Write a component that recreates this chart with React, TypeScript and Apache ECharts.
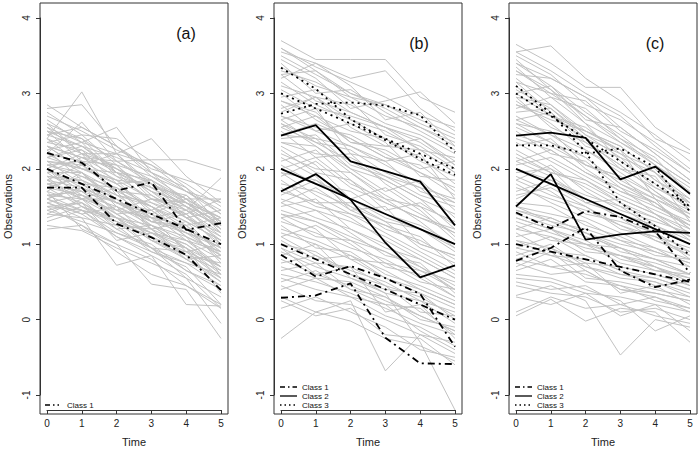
import React, { useEffect, useRef } from "react";
import * as echarts from "echarts";

const TIME = [0, 1, 2, 3, 4, 5];
const Y_TICKS = [-1, 0, 1, 2, 3, 4];
const PANEL_TITLES = ["(a)", "(b)", "(c)"];

// Panel (a): observed trajectories (grey)
const grayA = [
  [2.40, 3.02, 2.20, 2.05, 1.70, 1.45], [2.80, 2.85, 2.30, 1.90, 1.60, 1.30],
  [2.20, 2.62, 2.10, 1.80, 1.50, 1.20], [2.55, 2.35, 2.55, 1.95, 1.75, 1.40],
  [2.10, 2.05, 2.20, 2.40, 1.90, 1.55], [2.30, 2.15, 2.10, 2.12, 2.12, 1.98],
  [1.85, 1.75, 1.55, 1.40, 1.20, 0.95], [1.60, 1.45, 1.30, 1.10, 0.90, 0.70],
  [1.25, 1.18, 0.95, 0.75, 0.55, 0.30], [1.40, 1.35, 0.72, 0.85, 0.60, 0.15],
  [1.70, 1.20, 1.00, 0.47, 0.40, -0.25], [1.55, 1.40, 1.10, 0.85, 0.20, 0.18],
  [1.95, 1.65, 1.35, 0.95, 0.55, -0.05], [2.05, 1.90, 1.75, 1.50, 1.30, 1.05],
  [2.60, 2.40, 2.10, 1.85, 1.55, 1.25], [2.15, 2.00, 1.85, 1.60, 1.45, 1.10],
  [1.75, 1.65, 1.50, 1.25, 1.05, 0.80], [2.45, 2.30, 2.00, 1.70, 1.45, 1.15],
  [1.90, 1.85, 1.40, 1.45, 1.10, 0.90], [1.65, 1.70, 1.35, 1.05, 0.95, 0.60],
  [2.30, 2.00, 1.95, 1.55, 1.30, 0.85], [1.50, 1.55, 1.25, 1.20, 0.80, 0.55],
  [2.00, 2.20, 1.65, 1.55, 1.40, 1.60], [2.70, 2.50, 2.25, 2.05, 1.80, 1.50],
  [1.80, 1.60, 1.60, 1.30, 1.25, 0.75], [1.35, 1.50, 1.20, 0.95, 0.75, 0.45],
  [2.25, 2.35, 1.90, 1.75, 1.50, 1.30], [1.60, 1.80, 1.45, 1.35, 0.90, 1.00],
  [2.50, 2.10, 2.05, 1.60, 1.55, 1.20], [1.95, 1.95, 1.70, 1.20, 1.00, 0.65],
  [2.35, 2.25, 1.80, 1.85, 1.60, 1.60], [1.45, 1.30, 1.15, 1.00, 0.65, 0.40],
  [2.10, 1.80, 1.55, 1.35, 1.45, 1.88], [1.70, 1.55, 1.05, 1.15, 0.85, 0.50],
  [2.60, 2.20, 2.05, 1.90, 1.70, 1.55], [1.85, 2.05, 1.80, 1.45, 1.65, 1.20],
  [2.20, 1.95, 1.60, 1.25, 0.95, 0.70], [1.55, 1.65, 1.40, 1.15, 1.05, 0.90],
  [2.45, 2.55, 2.30, 2.00, 1.85, 1.70], [1.30, 1.45, 1.10, 0.90, 0.70, 0.20],
  [2.00, 1.75, 1.45, 1.60, 1.35, 1.10], [1.75, 1.90, 1.65, 1.35, 1.25, 1.35],
  [2.40, 2.05, 1.70, 1.50, 1.20, 0.95], [1.60, 1.40, 1.50, 1.05, 0.80, 0.85],
  [2.15, 2.25, 2.00, 1.70, 1.35, 1.45], [1.90, 1.50, 1.30, 1.15, 0.95, 0.35],
  [2.75, 2.45, 2.40, 2.10, 1.75, 1.25], [1.50, 1.25, 1.00, 0.80, 0.45, 0.15],
  [2.05, 2.10, 1.85, 1.80, 1.55, 1.25], [1.80, 1.70, 1.55, 1.40, 1.60, 1.15],
  [2.30, 2.00, 1.85, 1.40, 1.05, 0.70], [1.65, 1.60, 1.20, 1.25, 1.10, 0.60],
  [2.55, 2.20, 2.20, 1.80, 1.50, 1.00], [1.20, 1.25, 0.90, 0.60, 0.45, 0.20],
  [2.00, 1.60, 1.75, 1.30, 1.40, 0.95], [2.35, 2.45, 2.05, 1.65, 1.40, 1.05],
  [1.70, 1.95, 1.50, 1.30, 1.15, 0.85], [2.50, 2.30, 2.15, 1.95, 1.55, 1.35],
  [1.45, 1.55, 1.30, 0.95, 0.90, 0.55], [2.20, 2.10, 1.70, 1.65, 1.35, 1.00],
  [1.85, 1.60, 1.45, 1.20, 0.85, 0.75], [2.65, 2.35, 2.20, 1.75, 1.65, 1.30],
  [1.60, 1.75, 1.55, 1.45, 1.15, 0.95], [2.05, 1.95, 1.55, 1.30, 1.20, 0.80],
  [2.40, 2.20, 1.95, 1.85, 1.35, 1.15], [1.75, 1.50, 1.35, 1.25, 0.95, 0.55],
  [1.95, 2.15, 1.90, 1.60, 1.50, 1.20], [2.25, 1.85, 1.65, 1.50, 1.25, 0.90],
  [1.55, 1.35, 1.25, 0.90, 0.75, 0.60], [2.85, 2.55, 2.30, 1.95, 1.70, 1.40],
  [1.40, 1.60, 1.35, 1.05, 0.85, 0.65], [2.15, 2.30, 1.95, 1.70, 1.55, 1.35],
  [1.80, 1.85, 1.60, 1.20, 1.30, 1.05], [2.00, 1.70, 1.40, 1.10, 0.80, 0.50],
  [2.50, 2.40, 1.95, 1.75, 1.45, 1.25], [1.65, 1.45, 1.15, 0.95, 0.65, 0.45],
  [2.30, 2.15, 2.00, 1.80, 1.60, 1.35], [1.90, 1.80, 1.75, 1.35, 1.15, 1.00],
  [2.10, 2.00, 1.80, 1.50, 1.10, 0.85], [1.50, 1.45, 1.35, 1.15, 1.00, 0.70],
];

// Panel (b): observed trajectories (grey)
const grayB = [
  [3.70, 3.45, 3.45, 3.45, 2.95, 2.75], [3.55, 3.40, 3.20, 3.30, 2.80, 2.50],
  [3.35, 3.10, 2.95, 2.70, 2.55, 2.35], [3.10, 2.95, 2.85, 2.60, 2.45, 2.20],
  [2.90, 2.70, 2.50, 2.40, 2.10, 1.90], [3.25, 3.30, 3.00, 2.85, 2.60, 2.40],
  [2.70, 2.55, 2.45, 2.20, 1.95, 1.75], [3.45, 3.20, 2.80, 2.90, 3.02, 2.60],
  [2.95, 3.05, 2.75, 2.55, 2.35, 2.05], [3.60, 3.35, 3.15, 2.95, 2.70, 2.55],
  [2.60, 2.40, 2.30, 2.05, 1.80, 1.55], [3.15, 2.85, 2.65, 2.50, 2.25, 1.95],
  [2.80, 2.95, 2.55, 2.30, 2.40, 2.10], [3.40, 3.00, 3.05, 2.75, 2.50, 2.25],
  [3.00, 2.65, 2.40, 2.15, 2.05, 1.70], [2.55, 2.70, 2.35, 2.25, 2.00, 2.10],
  [3.30, 3.15, 2.90, 2.45, 2.30, 2.00], [2.85, 2.50, 2.60, 2.35, 1.90, 1.85],
  [3.20, 3.40, 3.10, 2.65, 2.75, 2.30], [2.65, 2.80, 2.20, 2.10, 2.20, 1.60],
  [2.55, 2.35, 2.10, 1.85, 1.60, 1.40], [2.20, 2.00, 1.95, 1.65, 1.40, 1.15],
  [1.80, 1.70, 1.50, 1.20, 1.05, 0.80], [2.40, 2.45, 2.05, 1.90, 1.75, 1.35],
  [1.60, 1.45, 1.30, 1.10, 0.85, 0.60], [2.05, 1.80, 1.70, 1.40, 1.25, 1.00],
  [2.70, 2.50, 2.30, 2.10, 1.70, 1.55], [1.90, 2.10, 1.75, 1.55, 1.35, 1.20],
  [1.50, 1.60, 1.20, 1.00, 0.70, 0.40], [2.30, 2.05, 1.60, 1.75, 1.45, 1.05],
  [1.70, 1.55, 1.55, 1.30, 0.95, 0.75], [2.10, 2.25, 1.85, 1.45, 1.55, 1.25],
  [1.40, 1.30, 1.05, 0.90, 0.65, 0.50], [2.50, 2.15, 2.20, 1.80, 1.50, 1.10],
  [1.95, 1.65, 1.40, 1.25, 1.10, 0.70], [2.35, 2.30, 1.95, 1.60, 1.30, 0.95],
  [1.65, 1.85, 1.60, 1.35, 1.20, 0.90], [2.15, 1.90, 1.45, 1.50, 1.00, 0.85],
  [1.85, 1.55, 1.35, 1.05, 0.80, 0.55], [2.60, 2.30, 2.00, 1.70, 1.85, 1.45],
  [1.20, 1.05, 0.85, 0.65, 0.40, 0.20], [0.80, 0.60, 0.45, 0.25, 0.05, -0.15],
  [1.45, 1.30, 1.10, 0.90, 0.70, 0.45], [0.55, 0.40, 0.30, 0.05, -0.10, -0.35],
  [-0.25, 0.10, -0.02, -0.25, -0.35, -0.55], [0.30, 0.10, 0.25, -0.68, -0.20, -0.45],
  [1.00, 0.90, 0.60, 0.35, -0.30, -1.20], [0.95, 0.75, 0.70, 0.45, 0.30, 0.05],
  [1.30, 1.15, 0.95, 0.80, 0.55, 0.30], [0.65, 0.75, 0.40, 0.20, 0.15, -0.20],
  [1.10, 0.85, 0.65, 0.50, 0.25, 0.10], [0.15, 0.30, 0.10, -0.10, -0.40, -0.50],
  [1.55, 1.35, 1.20, 0.95, 0.80, 0.55], [0.85, 1.00, 0.55, 0.40, 0.35, 0.00],
  [0.45, 0.25, 0.20, 0.00, -0.20, -0.30], [1.25, 0.95, 0.90, 0.60, 0.45, 0.25],
  [0.70, 0.55, 0.50, 0.30, 0.00, -0.10], [1.40, 1.20, 0.80, 0.75, 0.50, 0.40],
  [0.95, 0.60, 0.70, 0.10, 0.20, -0.25], [1.10, 1.25, 1.00, 0.70, 0.60, 0.30],
  [3.50, 3.25, 3.00, 2.80, 2.55, 2.30], [3.05, 2.80, 2.70, 2.55, 2.25, 2.15],
  [2.75, 2.95, 2.65, 2.40, 2.15, 1.80], [3.25, 2.90, 2.75, 2.55, 2.40, 2.05],
  [2.45, 2.60, 2.40, 2.15, 1.95, 1.65], [3.60, 3.30, 2.95, 2.85, 2.65, 2.45],
  [2.90, 2.75, 2.35, 2.30, 2.25, 1.95], [2.35, 2.20, 2.15, 1.90, 1.65, 1.50],
  [2.00, 2.15, 1.80, 1.60, 1.50, 1.30], [1.75, 1.50, 1.40, 1.15, 0.90, 0.65],
  [2.25, 1.95, 1.85, 1.55, 1.35, 1.15], [1.55, 1.75, 1.45, 1.25, 1.00, 0.85],
  [2.45, 2.40, 2.00, 1.85, 1.60, 1.20], [1.95, 1.85, 1.50, 1.30, 1.20, 0.95],
  [2.65, 2.35, 2.25, 1.95, 1.75, 1.60], [1.35, 1.45, 1.15, 0.85, 0.75, 0.35],
  [0.60, 0.50, 0.35, 0.15, -0.05, -0.20], [1.15, 1.00, 0.80, 0.55, 0.35, 0.15],
  [0.40, 0.55, 0.30, 0.20, -0.15, -0.40], [0.90, 0.70, 0.55, 0.35, 0.25, -0.05],
  [1.35, 1.10, 1.05, 0.75, 0.65, 0.40], [0.25, 0.05, 0.15, -0.20, -0.25, -0.60],
  [0.75, 0.85, 0.60, 0.45, 0.10, 0.05], [1.05, 0.80, 0.85, 0.55, 0.40, 0.20],
  [0.50, 0.65, 0.40, 0.30, 0.05, -0.15],
];

// Panel (c): observed trajectories (grey)
const grayC = [
  [3.65, 3.40, 3.08, 3.08, 2.55, 2.25], [3.55, 3.63, 3.20, 2.90, 2.40, 2.20],
  [3.40, 3.10, 2.75, 2.45, 2.10, 1.80], [3.20, 2.85, 2.50, 2.30, 1.95, 1.55],
  [2.90, 2.60, 2.25, 1.95, 1.65, 1.35], [3.30, 3.00, 2.90, 2.50, 2.25, 1.95],
  [2.70, 2.45, 2.15, 1.80, 1.55, 1.20], [3.50, 3.25, 2.85, 2.65, 2.35, 2.00],
  [3.05, 2.80, 2.45, 2.25, 1.85, 1.60], [2.80, 2.95, 2.60, 2.10, 1.80, 1.45],
  [3.45, 3.05, 2.70, 2.35, 2.05, 1.75], [3.10, 2.70, 2.55, 2.20, 2.00, 1.50],
  [2.60, 2.50, 2.05, 1.90, 1.50, 1.25], [3.25, 3.20, 2.95, 2.70, 2.30, 1.95],
  [2.95, 2.55, 2.35, 2.05, 1.70, 1.40], [3.35, 2.95, 2.80, 2.40, 2.15, 1.65],
  [2.75, 2.80, 2.40, 2.00, 1.90, 1.30], [3.00, 3.10, 2.65, 2.55, 2.20, 1.85],
  [3.15, 2.75, 2.30, 2.15, 1.75, 1.55], [2.85, 2.65, 2.50, 2.25, 1.60, 1.10],
  [2.45, 2.30, 2.05, 1.85, 1.60, 1.40], [2.15, 1.95, 1.80, 1.55, 1.35, 1.10],
  [1.75, 1.60, 1.45, 1.25, 1.05, 0.85], [2.30, 2.40, 2.00, 1.70, 1.50, 1.30],
  [1.55, 1.50, 1.25, 1.10, 0.90, 0.75], [2.00, 1.85, 1.65, 1.50, 1.20, 1.00],
  [2.65, 2.45, 2.25, 2.00, 1.75, 1.50], [1.85, 2.05, 1.70, 1.45, 1.30, 1.15],
  [1.45, 1.35, 1.15, 0.95, 0.80, 0.60], [2.25, 2.00, 1.55, 1.60, 1.40, 1.05],
  [1.65, 1.75, 1.50, 1.20, 1.10, 0.95], [2.05, 2.15, 1.90, 1.65, 1.45, 1.25],
  [1.35, 1.20, 1.00, 0.85, 0.70, 0.50], [2.50, 2.20, 2.10, 1.75, 1.55, 1.20],
  [1.90, 1.70, 1.40, 1.30, 1.15, 0.80], [2.35, 2.10, 1.85, 1.55, 1.25, 1.00],
  [1.60, 1.80, 1.55, 1.40, 1.25, 1.05], [2.10, 1.90, 1.60, 1.35, 1.05, 0.90],
  [1.80, 1.55, 1.35, 1.15, 0.95, 0.70], [2.55, 2.35, 2.15, 1.80, 1.60, 1.35],
  [1.20, 1.10, 0.95, 0.85, 0.75, 0.60], [0.80, 0.70, 0.60, 0.45, 0.35, 0.25],
  [1.40, 1.25, 1.15, 1.00, 0.90, 0.75], [0.55, 0.50, 0.35, 0.30, 0.20, 0.10],
  [0.05, 0.27, -0.02, 0.15, 0.10, -0.30], [0.32, 0.45, 0.25, -0.47, 0.00, -0.10],
  [0.95, 0.85, 0.80, 0.60, 0.55, 0.40], [0.70, 0.90, 0.55, 0.50, 0.40, 0.30],
  [1.30, 1.15, 1.00, 0.95, 0.70, 0.55], [0.60, 0.55, 0.40, 0.25, -0.15, 0.05],
  [1.05, 0.95, 0.75, 0.70, 0.60, 0.45], [0.10, 0.30, 0.15, 0.20, 0.05, -0.05],
  [1.50, 1.30, 1.20, 1.05, 0.85, 0.80], [0.85, 1.00, 0.70, 0.55, 0.50, 0.35],
  [0.45, 0.35, 0.30, 0.10, 0.15, 0.00], [1.15, 0.90, 0.85, 0.65, 0.45, 0.50],
  [0.75, 0.60, 0.65, 0.40, 0.30, 0.15], [1.35, 1.20, 0.90, 0.85, 0.65, 0.60],
  [0.90, 0.70, 0.75, 0.35, 0.45, 0.20], [1.10, 1.20, 1.05, 0.80, 0.70, 0.45],
  [3.40, 3.20, 2.95, 2.55, 2.20, 1.85], [3.15, 3.00, 2.70, 2.40, 2.05, 1.70],
  [2.85, 2.70, 2.40, 2.20, 1.85, 1.55], [3.30, 3.05, 2.60, 2.35, 2.10, 1.80],
  [2.65, 2.75, 2.35, 2.05, 1.70, 1.35], [3.55, 3.30, 3.00, 2.75, 2.45, 2.10],
  [2.95, 2.85, 2.45, 2.15, 1.95, 1.60], [3.00, 2.70, 2.50, 2.30, 1.95, 1.45],
  [2.40, 2.25, 1.95, 1.70, 1.55, 1.25], [1.95, 2.00, 1.75, 1.50, 1.35, 1.10],
  [2.20, 1.95, 1.85, 1.60, 1.40, 1.20], [1.70, 1.85, 1.60, 1.35, 1.15, 0.90],
  [2.60, 2.35, 2.05, 1.90, 1.65, 1.45], [1.50, 1.40, 1.30, 1.05, 0.95, 0.80],
  [2.10, 2.25, 1.95, 1.75, 1.40, 1.15], [1.85, 1.65, 1.50, 1.25, 1.10, 0.85],
  [0.65, 0.80, 0.50, 0.45, 0.25, 0.15], [1.25, 1.05, 1.00, 0.75, 0.65, 0.55],
  [0.95, 1.10, 0.85, 0.65, 0.55, 0.40], [0.50, 0.40, 0.45, 0.20, 0.30, 0.10],
  [1.45, 1.30, 1.10, 0.95, 0.80, 0.70], [0.30, 0.20, 0.35, 0.05, 0.20, -0.15],
  [1.05, 0.85, 0.70, 0.60, 0.50, 0.30], [0.80, 0.95, 0.65, 0.40, 0.35, 0.25],
  [1.20, 1.35, 1.15, 0.90, 0.80, 0.60],
];

// Highlighted class trajectories (black)
const class1A = [
  [2.21, 2.08, 1.71, 1.82, 1.19, 1.28],
  [2.0, 1.8, 1.6, 1.4, 1.2, 1.0],
  [1.75, 1.75, 1.27, 1.09, 0.86, 0.39],
];
const class1B = [
  [1.0, 0.8, 0.6, 0.4, 0.2, 0.0],
  [0.86, 0.57, 0.71, 0.55, 0.34, -0.36],
  [0.29, 0.32, 0.48, -0.24, -0.58, -0.59],
];
const class2B = [
  [2.44, 2.58, 2.10, 1.97, 1.83, 1.25],
  [2.0, 1.8, 1.6, 1.4, 1.2, 1.0],
  [1.70, 1.93, 1.59, 1.02, 0.56, 0.72],
];
const class3B = [
  [3.34, 3.06, 2.66, 2.38, 2.13, 1.92],
  [3.0, 2.8, 2.6, 2.4, 2.2, 2.0],
  [2.73, 2.86, 2.88, 2.84, 2.71, 2.22],
];
const class1C = [
  [1.0, 0.9, 0.8, 0.7, 0.6, 0.5],
  [1.42, 1.21, 1.44, 1.36, 1.17, 0.62],
  [0.78, 0.95, 1.22, 0.65, 0.43, 0.53],
];
const class2C = [
  [2.44, 2.48, 2.41, 1.86, 2.03, 1.67],
  [2.0, 1.8, 1.6, 1.4, 1.2, 1.0],
  [1.50, 1.93, 1.06, 1.13, 1.17, 1.15],
];
const class3C = [
  [3.10, 2.74, 2.22, 1.55, 1.24, 0.85],
  [3.0, 2.7, 2.4, 2.1, 1.8, 1.5],
  [2.31, 2.31, 2.20, 2.27, 2.02, 1.43],
];

const FONT = "'Liberation Sans', Arial, Helvetica, sans-serif";
const GRID_LEFT = [47, 281, 516];
const BOX_LEFT = [40, 274, 509];
const TITLE_POS = [
  [186, 33],
  [419, 43],
  [655, 43],
];

const DASHDOT = [7, 4, 2, 4];
const DOTTED = [2, 4];

export default function App() {
  const ref = useRef<HTMLDivElement>(null);

  useEffect(() => {
    if (!ref.current) return;
    const chart = echarts.init(ref.current, null, { renderer: "svg" });

    const mk = (g: number, vals: number[], color: string, width: number, dash: any, z: number) => ({
      type: "line",
      xAxisIndex: g,
      yAxisIndex: g,
      data: vals.map((v, i) => [TIME[i], v]),
      symbol: "none",
      silent: true,
      clip: false,
      z,
      lineStyle: { color, width, type: dash },
      emphasis: { disabled: true },
    });

    const series: any[] = [];
    [grayA, grayB, grayC].forEach((set, g) =>
      set.forEach((vals) => series.push(mk(g, vals, "#c2c2c2", 1, "solid", 2)))
    );
    const black: [number, number[][], any][] = [
      [0, class1A, DASHDOT],
      [1, class1B, DASHDOT],
      [1, class2B, "solid"],
      [1, class3B, DOTTED],
      [2, class1C, DASHDOT],
      [2, class2C, "solid"],
      [2, class3C, DOTTED],
    ];
    black.forEach(([g, set, dash]) =>
      set.forEach((vals) => series.push(mk(g, vals, "#000", 1.8, dash, 3)))
    );

    const grid = GRID_LEFT.map((l) => ({ left: l, top: 18, width: 174, height: 381 }));
    const axisCommon = {
      axisLine: { show: true, onZero: false, lineStyle: { color: "#333", width: 1 } },
      axisTick: { show: true, length: 4, lineStyle: { color: "#333" } },
      splitLine: { show: false },
    };
    const xAxis = GRID_LEFT.map((_, g) => ({
      ...axisCommon,
      gridIndex: g,
      type: "value",
      min: 0,
      max: 5,
      interval: 1,
      offset: 15,
      axisLabel: { fontSize: 10, color: "#222", margin: 8, fontFamily: FONT },
      name: "Time",
      nameLocation: "middle",
      nameGap: 26,
      nameTextStyle: { fontSize: 11, color: "#222", fontFamily: FONT },
    }));
    const yAxis = GRID_LEFT.map((_, g) => ({
      ...axisCommon,
      gridIndex: g,
      type: "value",
      min: Y_TICKS[0],
      max: Y_TICKS[Y_TICKS.length - 1],
      interval: 1,
      offset: 7,
      axisLabel: { fontSize: 10, color: "#222", margin: 9, rotate: 90, fontFamily: FONT },
      name: "Observations",
      nameLocation: "middle",
      nameGap: 27,
      nameTextStyle: { fontSize: 11, color: "#222", fontFamily: FONT },
    }));

    const graphic: any[] = [];
    BOX_LEFT.forEach((bx, g) => {
      graphic.push({
        type: "rect",
        shape: { x: bx, y: 3, width: 188, height: 411 },
        style: { fill: "none", stroke: "#333", lineWidth: 1 },
        z: 10,
        silent: true,
      });
      graphic.push({
        type: "text",
        x: TITLE_POS[g][0],
        y: TITLE_POS[g][1],
        style: {
          text: PANEL_TITLES[g],
          fontSize: 16,
          fontFamily: FONT,
          fill: "#111",
          align: "center",
          verticalAlign: "middle",
          textAlign: "center",
          textVerticalAlign: "middle",
        },
        z: 10,
      });
    });

    const legendRows = (bx: number, rows: [string, any][], y0: number, x1: number, x2: number, tx: number) => {
      rows.forEach(([label, dash], i) => {
        const y = y0 + i * 9;
        graphic.push({
          type: "line",
          shape: { x1: bx + x1, y1: y, x2: bx + x2, y2: y },
          style: { stroke: "#000", lineWidth: 1.3, lineDash: dash === "solid" ? null : dash },
          z: 10,
          silent: true,
        });
        graphic.push({
          type: "text",
          x: bx + tx,
          y,
          style: {
            text: label,
            fontSize: 8,
            fontFamily: FONT,
            fill: "#111",
            align: "left",
            verticalAlign: "middle",
            textAlign: "left",
            textVerticalAlign: "middle",
          },
          z: 10,
        });
      });
    };
    legendRows(BOX_LEFT[0], [["Class 1", [5, 3, 1.5, 3]]], 405, 5, 19, 27);
    const three: [string, any][] = [
      ["Class 1", [5, 3, 1.5, 3]],
      ["Class 2", "solid"],
      ["Class 3", [1.5, 3]],
    ];
    legendRows(BOX_LEFT[1], three, 387, 6, 23, 28);
    legendRows(BOX_LEFT[2], three, 387, 6, 23, 28);

    chart.setOption({
      animation: false,
      backgroundColor: "#fff",
      textStyle: { fontFamily: FONT },
      grid,
      xAxis,
      yAxis,
      series,
      graphic,
    });
    return () => chart.dispose();
  }, []);

  return (
    <div
      ref={ref}
      style={{ position: "absolute", left: 0, top: 0, width: 700, height: 452 }}
    />
  );
}
